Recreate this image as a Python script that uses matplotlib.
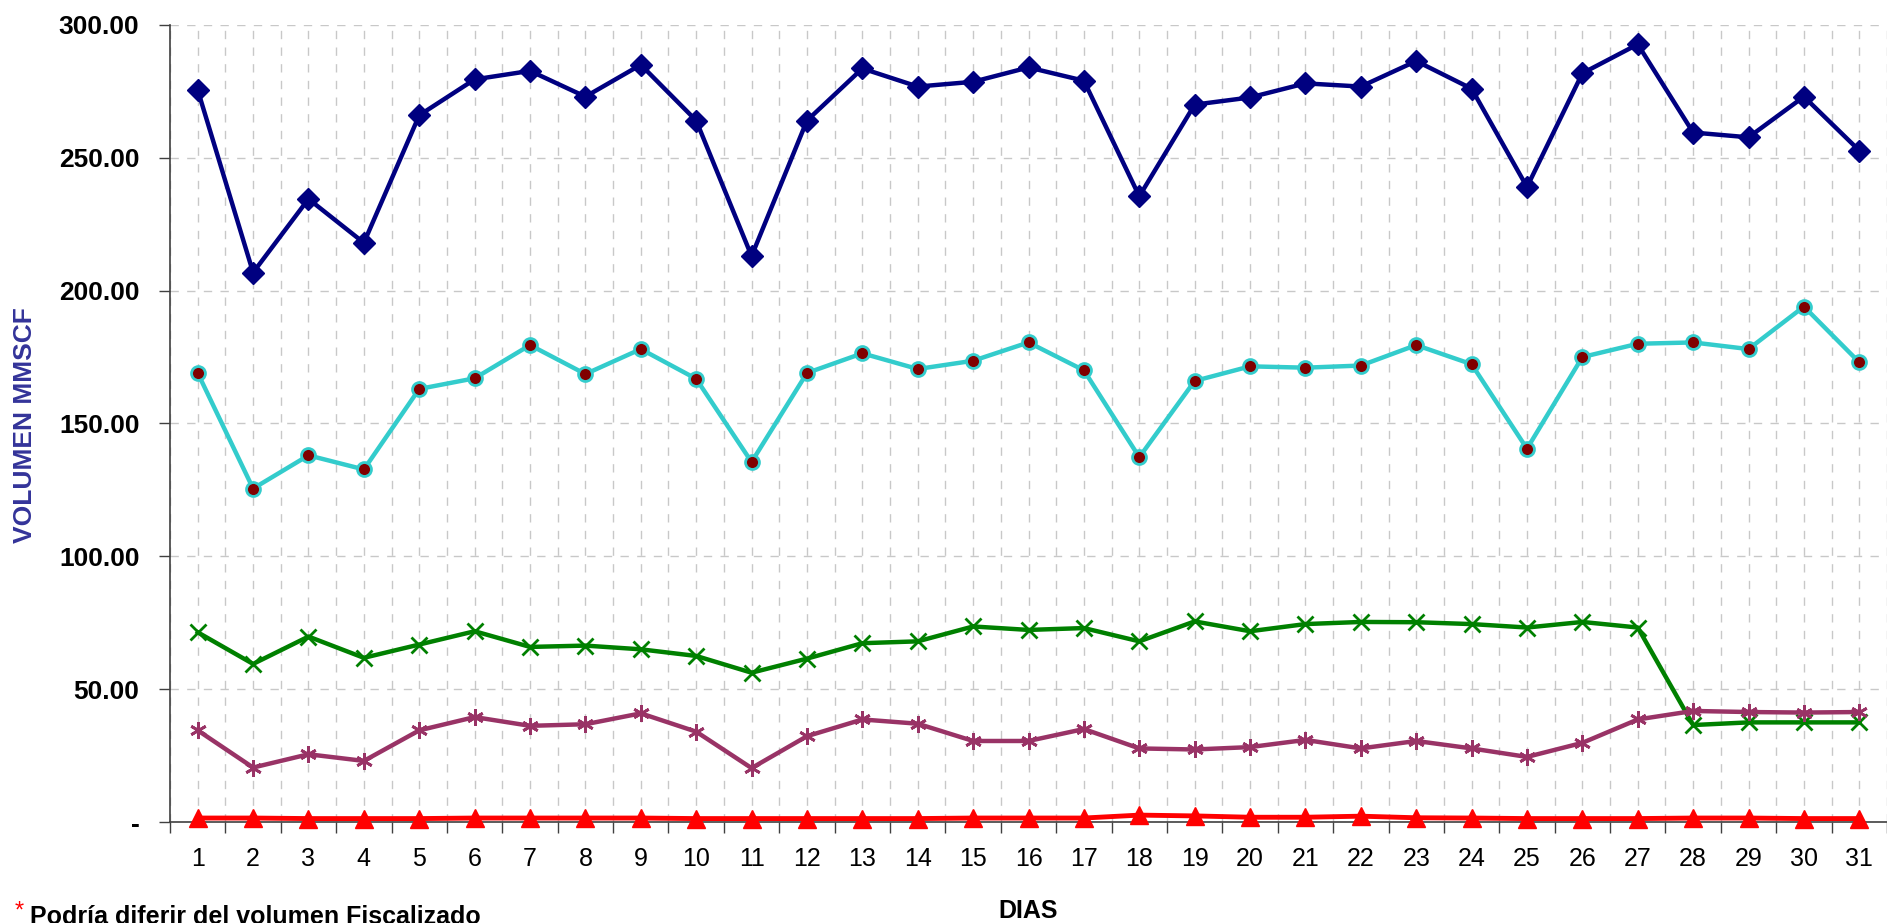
import numpy as np
import matplotlib.pyplot as plt
from matplotlib.ticker import FixedLocator, FuncFormatter

plt.rcParams['font.family'] = ['Liberation Sans', 'DejaVu Sans']

dias = np.arange(1, 32)

volumen_total = [275.5, 206.8, 234.5, 218.0, 266.0, 279.5, 282.7, 273.0, 285.0, 264.0,
                 213.0, 264.0, 283.6, 276.8, 278.6, 284.0, 279.0, 235.5, 270.0, 272.7,
                 278.0, 276.8, 286.4, 276.0, 239.0, 281.8, 292.7, 259.5, 257.7, 273.0,
                 252.7]
volumen_cian = [169.0, 125.5, 138.0, 132.7, 163.0, 167.0, 179.5, 168.6, 178.0, 166.8,
                135.5, 169.0, 176.4, 170.5, 173.6, 180.5, 170.0, 137.3, 166.0, 171.5,
                171.0, 171.8, 179.5, 172.3, 140.5, 175.0, 180.0, 180.5, 178.0, 194.0,
                173.0]
volumen_verde = [71.4, 59.5, 69.8, 61.8, 66.8, 71.8, 65.9, 66.4, 65.0, 62.5,
                 56.2, 61.5, 67.3, 68.0, 73.6, 72.3, 73.0, 68.0, 75.5, 71.8,
                 74.5, 75.3, 75.2, 74.5, 73.2, 75.3, 73.2, 36.5, 37.5, 37.5,
                 37.5]
volumen_morado = [34.5, 20.5, 25.5, 23.0, 34.5, 39.5, 36.2, 36.8, 40.9, 34.0,
                  20.3, 32.3, 38.6, 37.0, 30.5, 30.5, 35.0, 27.7, 27.3, 28.2,
                  30.9, 27.7, 30.5, 27.7, 24.5, 29.8, 38.6, 41.8, 41.4, 41.2,
                  41.4]
volumen_rojo = [1.5, 1.5, 1.3, 1.3, 1.3, 1.5, 1.5, 1.5, 1.5, 1.3,
                1.3, 1.3, 1.3, 1.3, 1.5, 1.5, 1.5, 2.6, 2.3, 1.8,
                1.8, 2.2, 1.6, 1.5, 1.3, 1.3, 1.3, 1.5, 1.5, 1.3,
                1.3]

fig = plt.figure(figsize=(18.87, 9.23), dpi=100)
ax = fig.add_axes([0.0901, 0.1094, 0.9099, 0.8636])

ax.plot(dias, volumen_total, '-', color='#000080', lw=3.2, marker='D', ms=11,
        mfc='#000080', mec='#000080', zorder=5, clip_on=False)
ax.plot(dias, volumen_cian, '-', color='#33CCCC', lw=3.2, marker='o', ms=10,
        mfc='#800000', mec='#33CCCC', mew=2, zorder=5, clip_on=False)
ax.plot(dias, volumen_verde, '-', color='#008000', lw=3.2, marker='x', ms=12,
        mew=2, zorder=5, clip_on=False)
ax.plot(dias, volumen_morado, '-', color='#993366', lw=3.2, marker=(6, 2, 0), ms=12,
        mew=2, zorder=5, clip_on=False)
# triangles hang a bit below the axis line in the original
ax.plot(dias, volumen_rojo, '-', color='#FF0000', lw=3.5, marker='^', ms=12.5,
        mfc='#FF0000', mec='#FF0000', zorder=6, clip_on=False)

ax.set_xlim(0.5, 31.5)
ax.set_ylim(0, 300)

# ticks on the day boundaries, labels on the day centres
ax.set_xticks(np.arange(0.5, 32, 1))
ax.set_xticklabels([])
ax.xaxis.set_minor_locator(FixedLocator(dias))
ax.set_xticks(dias, minor=True)
ax.set_xticklabels([str(d) for d in dias], minor=True, fontsize=18)
ax.tick_params(axis='x', which='major', length=8, width=1, color='#404040', direction='out')
ax.tick_params(axis='x', which='minor', length=0, pad=18)

ax.set_yticks(np.arange(0, 301, 50))
ax.yaxis.set_major_formatter(FuncFormatter(lambda v, p: '-' if v == 0 else f'{v:.2f}'))
ax.tick_params(axis='y', length=8, width=1, color='#404040', labelsize=19, pad=14)
for lbl in ax.get_yticklabels():
    lbl.set_fontweight('bold')

ax.grid(True, which='both', axis='x', color='#C8C8C8', linestyle=(0, (6, 6)), lw=1)
ax.grid(True, which='major', axis='y', color='#C8C8C8', linestyle=(0, (6, 6)), lw=1)
ax.set_axisbelow(True)

for s in ['top', 'right']:
    ax.spines[s].set_visible(False)
for s in ['left', 'bottom']:
    ax.spines[s].set_color('#404040')
    ax.spines[s].set_linewidth(1.2)

ax.set_xlabel('DIAS', fontsize=18, fontweight='bold', labelpad=20)
fig.text(0.0135, 0.54, 'VOLUMEN MMSCF', rotation=90, color='#333399', fontsize=19,
         fontweight='bold', ha='center', va='center')

fig.text(0.008, 0.0, '*', color='#FF0000', fontsize=17, va='bottom')
fig.text(0.016, -0.006, 'Podría diferir del volumen Fiscalizado', color='black',
         fontsize=18, fontweight='bold', va='bottom')

fig.savefig('out.png', dpi=100)
